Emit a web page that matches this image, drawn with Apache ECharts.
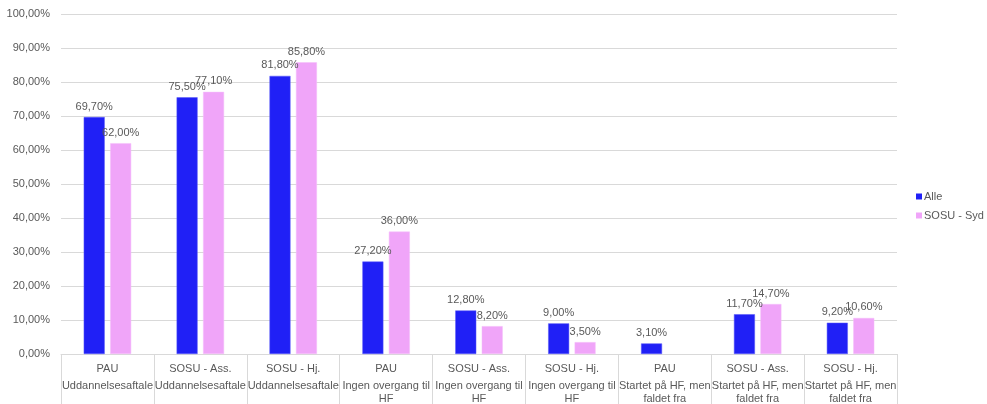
<!DOCTYPE html>
<html>
<head>
<meta charset="utf-8">
<script src="https://cdn.jsdelivr.net/npm/echarts@6/dist/echarts.min.js"></script>
<style>html,body{margin:0;padding:0;background:#fff;}#c{width:987px;height:404px;}</style>
</head>
<body>
<div id="c"></div>
<script>
const subLabels = ['PAU','SOSU - Ass.','SOSU - Hj.','PAU','SOSU - Ass.','SOSU - Hj.','PAU','SOSU - Ass.','SOSU - Hj.'];
const groupLabels = ['Uddannelsesaftale','Uddannelsesaftale','Uddannelsesaftale','Ingen overgang til\nHF','Ingen overgang til\nHF','Ingen overgang til\nHF','Startet på HF, men\nfaldet fra','Startet på HF, men\nfaldet fra','Startet på HF, men\nfaldet fra'];
const alle = [69.7, 75.5, 81.8, 27.2, 12.8, 9.0, 3.1, 11.7, 9.2];
const sosuSyd = [62.0, 77.1, 85.8, 36.0, 8.2, 3.5, null, 14.7, 10.6];
const yTicks = [0,10,20,30,40,50,60,70,80,90,100];

const categories = subLabels.map((s, i) => s + '|' + groupLabels[i]);
const fmt = v => v.toFixed(2).replace('.', ',') + '%';
const font = 'Liberation Sans, Arial, sans-serif';
const txt = '#595959';

const chart = echarts.init(document.getElementById('c'));
chart.setOption({
  animation: false,
  textStyle: {fontFamily: font},
  grid: {left: 61, right: 90, top: 14, bottom: 50, containLabel: false},
  legend: {
    orient: 'vertical', left: 911, top: 186, itemWidth: 6, itemHeight: 6, itemGap: 8,
    icon: 'rect',
    itemStyle: {borderWidth: 0},
    textStyle: {fontSize: 11, color: txt, fontFamily: font, padding: [0,0,0,-3]},
    data: ['Alle', 'SOSU - Syd']
  },
  xAxis: {
    type: 'category',
    data: categories,
    axisLine: {lineStyle: {color: '#D9D9D9'}},
    axisTick: {show: true, length: 52, lineStyle: {color: '#D9D9D9'}},
    axisLabel: {
      interval: 0, margin: 4,
      formatter: v => {
        const [s, g] = v.split('|');
        return '{a|' + s + '}\n' + g.split('\n').map(l => '{b|' + l + '}').join('\n');
      },
      rich: {
        a: {fontSize: 11, color: txt, lineHeight: 21, fontFamily: font},
        b: {fontSize: 11, color: txt, lineHeight: 13, fontFamily: font}
      }
    }
  },
  yAxis: {
    type: 'value', min: 0, max: 100, interval: 10,
    axisLine: {show: false}, axisTick: {show: false},
    splitLine: {lineStyle: {color: '#D9D9D9'}},
    axisLabel: {formatter: v => fmt(v), fontSize: 11, color: txt, margin: 11}
  },
  series: [
    {
      name: 'Alle', type: 'bar', data: alle, barWidth: 21, barGap: '26%',
      itemStyle: {color: '#2020F6', borderColor: '#5A5AF8', borderWidth: 0.5},
      label: {show: true, position: 'top', distance: 5, fontSize: 11, color: txt, formatter: p => fmt(p.value)}
    },
    {
      name: 'SOSU - Syd', type: 'bar', data: sosuSyd, barWidth: 21,
      itemStyle: {color: '#F0A5F9', borderColor: '#F4BFFA', borderWidth: 0.5},
      label: {show: true, position: 'top', distance: 5, fontSize: 11, color: txt, formatter: p => fmt(p.value)}
    }
  ]
});
</script>
</body>
</html>
